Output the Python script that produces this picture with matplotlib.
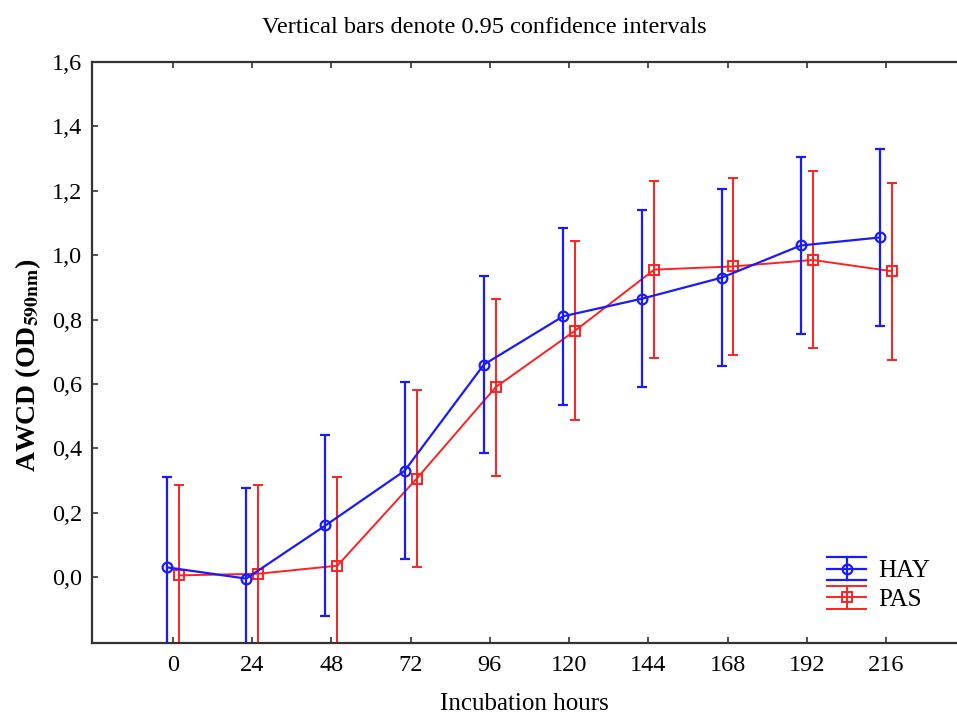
import matplotlib
matplotlib.use("Agg")
import matplotlib.pyplot as plt
from matplotlib.legend_handler import HandlerBase
from matplotlib.lines import Line2D
import numpy as np

hours = [0, 24, 48, 72, 96, 120, 144, 168, 192, 216]
hay_mean = [0.03, -0.005, 0.16, 0.33, 0.66, 0.81, 0.865, 0.93, 1.03, 1.055]
hay_ci = [0.28, 0.28, 0.28, 0.275, 0.275, 0.275, 0.275, 0.275, 0.275, 0.275]
pas_mean = [0.005, 0.01, 0.035, 0.305, 0.59, 0.765, 0.955, 0.965, 0.985, 0.95]
pas_ci = [0.28, 0.275, 0.275, 0.275, 0.275, 0.278, 0.275, 0.275, 0.275, 0.275]
yticks = [0.0, 0.2, 0.4, 0.6, 0.8, 1.0, 1.2, 1.4, 1.6]
ytick_labels = ["0,0", "0,2", "0,4", "0,6", "0,8", "1,0", "1,2", "1,4", "1,6"]

plt.rcParams['font.family'] = ['Liberation Serif', 'DejaVu Serif']
plt.rcParams['mathtext.fontset'] = 'stix'

BLUE = '#1a1aff'
RED = '#ff2020'


class StatHandler(HandlerBase):
    def __init__(self, color, marker, lw):
        super().__init__()
        self.color = color
        self.marker = marker
        self.lw = lw

    def create_artists(self, legend, orig_handle, xdescent, ydescent, width, height,
                       fontsize, trans):
        cy = height / 2 - ydescent
        h = fontsize * 0.45
        x0, x1 = -xdescent, width - xdescent
        xm = (x0 + x1) / 2
        arts = []
        for yy in (cy - h, cy, cy + h):
            arts.append(Line2D([x0, x1], [yy, yy], color=self.color, lw=self.lw,
                               transform=trans))
        arts.append(Line2D([xm, xm], [cy - h, cy + h], color=self.color, lw=self.lw,
                           transform=trans))
        arts.append(Line2D([xm], [cy], marker=self.marker, ms=7, mfc='none',
                           mec=self.color, mew=self.lw, ls='none', transform=trans))
        return arts


fig = plt.figure(figsize=(9.57, 7.18), dpi=100)
ax = fig.add_axes([0.0961, 0.1045, 0.9039, 0.8091])

off = 1.8
x = np.array(hours, dtype=float)
ax.errorbar(x - off, hay_mean, yerr=hay_ci, color=BLUE, lw=1.6, marker='o',
            ms=7, mfc='none', mew=1.6, capsize=3.5, elinewidth=1.6, capthick=1.6,
            label='HAY', zorder=3)
ax.errorbar(x + off, pas_mean, yerr=pas_ci, color=RED, lw=1.4, marker='s',
            ms=7, mfc='none', mew=1.4, capsize=3.5, elinewidth=1.4, capthick=1.4,
            label='PAS', zorder=2)

ax.set_xlim(-24.5, 237.5)
ax.set_ylim(-0.205, 1.6)
ax.set_xticks(hours)
ax.set_xticklabels([str(h) for h in hours])
ax.set_yticks(yticks)
ax.set_yticklabels(ytick_labels)
ax.tick_params(axis='both', direction='in', labelsize=17.5, length=4, width=1.2,
               color='#333333')
ax.tick_params(axis='x', top=True, pad=9)
ax.tick_params(axis='y', pad=7)
ax.spines['right'].set_visible(False)
for s in ['left', 'top', 'bottom']:
    ax.spines[s].set_linewidth(1.6)
    ax.spines[s].set_color('#333333')

ax.set_xlabel('Incubation hours', fontsize=18, labelpad=12)
ax.set_ylabel(r'AWCD (OD$_{\mathbf{590nm}}$)', fontsize=20, fontweight='bold')
ax.yaxis.set_label_coords(-0.057, 0.478)
fig.text(0.506, 0.962, 'Vertical bars denote 0.95 confidence intervals', ha='center',
         va='center', fontsize=17.5)

hp1 = Line2D([], [], color=BLUE)
hp2 = Line2D([], [], color=RED)
leg = ax.legend([hp1, hp2], ['HAY', 'PAS'],
                handler_map={hp1: StatHandler(BLUE, 'o', 1.6), hp2: StatHandler(RED, 's', 1.4)},
                loc='center left', bbox_to_anchor=(0.85, 0.099), frameon=False,
                fontsize=18, handlelength=1.55, handleheight=0.7, handletextpad=0.5,
                labelspacing=0.25, borderpad=0, borderaxespad=0)

fig.savefig('out.png', dpi=100)
